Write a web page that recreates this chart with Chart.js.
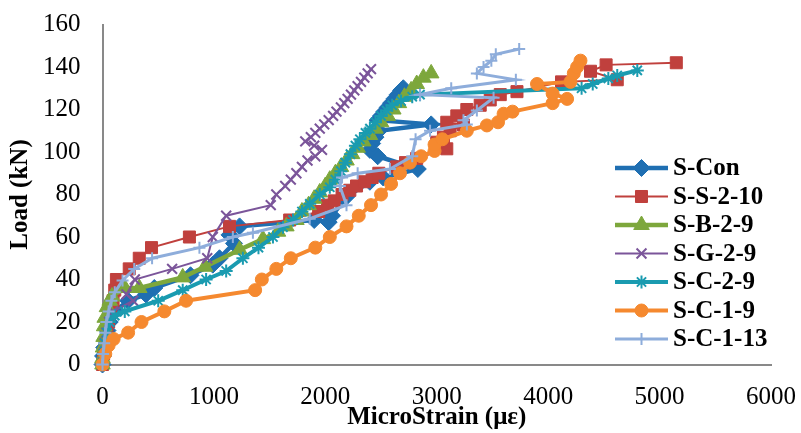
<!DOCTYPE html>
<html>
<head>
<meta charset="utf-8">
<script src="https://cdn.jsdelivr.net/npm/chart.js@4/dist/chart.umd.min.js"></script>
<style>
  html, body { margin: 0; padding: 0; background: #ffffff; }
  #wrap { width: 801px; height: 433px; }
</style>
</head>
<body>
<div id="wrap"><canvas id="c" width="801" height="433"></canvas></div>
<script>
// Load–strain readings, [microstrain, load kN]
const sCon = [[0,0],[5,4],[15,8],[30,12],[45,16],[65,20],[110,25],[230,30],[390,33],[465,36],[790,42],[990,47],[1050,50],[1180,57],[1140,61],[1230,65],[1900,68],[2030,67],[2060,70],[2190,79],[2400,86],[2520,88],[2830,92],[2470,98],[2400,101],[2420,104],[2450,107],[2480,110],[2950,113],[2470,115],[2500,117],[2530,119],[2560,121],[2590,123],[2620,125],[2650,127],[2680,129],[2700,130]];
const sS210 = [[0,0],[10,5],[25,10],[40,15],[55,20],[75,25],[95,30],[110,35],[125,40],[240,45],[330,50],[440,55],[780,60],[1140,65],[1680,68],[1940,72],[2020,75],[2080,77],[2150,80],[2220,82],[2280,84],[2350,86],[2420,88],[2480,90],[2640,93],[2720,95],[2820,97],[3090,101.5],[3000,104.6],[3060,107],[3120,110],[3240,112.7],[3090,114],[3180,117],[3270,120],[3390,122],[3480,124.5],[3570,127],[3720,128.4],[4120,133],[4620,134],[4380,138],[4520,141],[5150,142]];
const sB29 = [[0,0],[0,3],[5,8],[10,13],[15,18],[20,22],[40,27],[65,30],[85,32],[200,36],[330,36],[720,41],[920,46],[1230,54],[1440,59],[1575,62.5],[1650,65],[1740,68],[1790,72],[1850,75],[1900,78],[1950,81],[2000,84],[2040,87],[2090,90],[2140,93],[2190,96],[2240,99],[2290,102],[2340,105],[2400,108],[2450,111],[2500,114],[2560,117],[2610,120],[2660,123],[2710,126],[2770,129],[2820,132],[2880,135],[2950,137]];
const sG29 = [[0,0],[10,5],[20,10],[35,15],[60,20],[95,25],[275,30],[215,33],[290,40],[625,45],[940,50],[990,60],[1110,70],[1510,75],[1560,80],[1640,84],[1690,87],[1740,90],[1790,93],[1840,96],[1910,98],[1970,101],[1900,103],[1820,105],[1870,107],[1910,109],[1950,111],[1990,113],[2030,115],[2070,117],[2100,119],[2140,121],[2170,123],[2200,125],[2230,127],[2260,129],[2290,131],[2320,133],[2350,135],[2380,137],[2410,139]];
const sC29 = [[0,0],[10,5],[20,10],[40,15],[65,20],[110,23],[200,25],[500,30],[720,35],[930,40],[1110,44],[1260,50],[1400,55],[1530,60],[1620,64.6],[1710,68],[1790,72],[1860,75.6],[1950,80],[2040,83.4],[2090,87],[2140,91],[2180,95],[2225,99],[2270,103],[2310,106],[2360,109],[2400,111],[2450,114],[2500,117],[2550,119.5],[2600,122],[2680,124],[2780,126],[2850,127],[4300,130],[4400,132],[4540,134.6],[4620,136],[4800,138.4]];
const sC19 = [[0,0],[25,5],[55,9],[100,12],[230,15],[350,20],[555,25],[750,30],[1370,35],[1430,40],[1560,45],[1690,50],[1910,55],[2040,60],[2190,65],[2300,70],[2410,75],[2500,80],[2590,85],[2670,90],[2760,95],[2860,98],[2980,100.5],[2980,103.5],[3050,106],[3270,110],[3450,112.5],[3550,114],[3600,118],[3680,119],[4040,123],[4170,125],[4040,127.5],[3900,132],[4200,133],[4230,137],[4260,140],[4290,143]];
const sC113 = [[0,0],[5,5],[15,10],[25,15],[35,20],[55,25],[80,30],[110,34],[180,39.5],[285,45],[445,50],[870,55],[1170,60],[1350,62],[1860,68.6],[2190,75],[2130,84],[2150,88],[2290,90],[2580,92],[2780,98],[2810,106],[2940,110],[3270,113],[3240,115],[3360,119.5],[3510,125.5],[2850,127],[3130,130],[3710,134],[3360,137],[3420,140],[3490,143],[3530,146],[3740,148.5]];

const seriesNames = ['S-Con','S-S-2-10','S-B-2-9','S-G-2-9','S-C-2-9','S-C-1-9','S-C-1-13'];
const seriesData = [sCon, sS210, sB29, sG29, sC29, sC19, sC113];
const seriesColors = ['#1F6FB2','#C0403D','#7DA73C','#7B559A','#1A9BB0','#F5892F','#8EADDB'];
const lineWidths = [4.5, 2, 4.5, 2, 4, 4, 3];
const markerStyles = ['rectRot','rect','triangle','crossRot','star','circle','cross'];
const markerSizes = [8.5, 8.5, 9, 7, 6.5, 6.5, 6];
const markerBorders = [1, 1, 1, 2, 2, 1, 2];

const xTicks = { min: 0, max: 6000, step: 1000 };
const yTicks = { min: 0, max: 160, step: 20 };

const serif = '"Liberation Serif", "Times New Roman", serif';
const axisGrey = '#898989';

const datasets = seriesNames.map((name, i) => ({
  label: name,
  data: seriesData[i].map(p => ({ x: p[0], y: p[1] })),
  showLine: true,
  tension: 0,
  borderColor: seriesColors[i],
  backgroundColor: seriesColors[i],
  borderWidth: lineWidths[i],
  pointStyle: markerStyles[i],
  pointRadius: markerSizes[i],
  pointBackgroundColor: seriesColors[i],
  pointBorderColor: seriesColors[i],
  pointBorderWidth: markerBorders[i],
  order: seriesNames.length - i,
  clip: false
}));

// Key on the right: a line sample with its marker, then the series name
const seriesKey = {
  id: 'seriesKey',
  afterDraw(chart) {
    const ctx = chart.ctx;
    const x0 = 615, x1 = 668, top = 168, step = 28.5;
    chart.data.datasets.forEach((ds, i) => {
      const y = top + i * step;
      ctx.save();
      ctx.strokeStyle = ds.borderColor;
      ctx.lineWidth = ds.borderWidth;
      ctx.beginPath();
      ctx.moveTo(x0, y);
      ctx.lineTo(x1, y);
      ctx.stroke();
      ctx.fillStyle = ds.pointBackgroundColor;
      ctx.strokeStyle = ds.pointBorderColor;
      ctx.lineWidth = ds.pointBorderWidth;
      Chart.helpers.drawPoint(ctx, {
        pointStyle: ds.pointStyle,
        radius: ds.pointRadius,
        borderWidth: ds.pointBorderWidth,
        rotation: 0
      }, (x0 + x1) / 2, y);
      ctx.fillStyle = '#000';
      ctx.font = 'bold 25px ' + serif;
      ctx.textAlign = 'left';
      ctx.textBaseline = 'middle';
      ctx.fillText(ds.label, 673, y + 1);
      ctx.restore();
    });
  }
};

new Chart(document.getElementById('c'), {
  type: 'scatter',
  data: { datasets },
  plugins: [seriesKey],
  options: {
    responsive: false,
    animation: false,
    devicePixelRatio: 1,
    layout: { padding: { left: 0, top: 24.5, right: 30, bottom: 0 } },
    plugins: { legend: { display: false }, tooltip: { enabled: false } },
    scales: {
      x: {
        type: 'linear',
        min: xTicks.min, max: xTicks.max,
        ticks: { stepSize: xTicks.step, padding: 18, color: '#000', maxRotation: 0,
                 font: { family: serif, size: 25 }, callback: v => String(v) },
        grid: { display: false, drawTicks: false },
        border: { display: true, color: axisGrey, width: 2 },
        title: { display: true, text: 'MicroStrain (με)', color: '#000',
                 font: { family: serif, size: 25, weight: 'bold' }, padding: { top: 0, bottom: 0 } },
        afterFit(s) { s.height = 68.5; s.paddingLeft = 0; s.paddingRight = 0; }
      },
      y: {
        type: 'linear',
        min: yTicks.min, max: yTicks.max,
        ticks: { stepSize: yTicks.step, padding: 22, color: '#000',
                 font: { family: serif, size: 25 }, callback: v => String(v) },
        grid: { display: false, drawTicks: false },
        border: { display: true, color: axisGrey, width: 2 },
        title: { display: true, text: 'Load (kN)', color: '#000',
                 font: { family: serif, size: 25, weight: 'bold' }, padding: { top: 6, bottom: 0 } },
        afterFit(s) { s.width = 102.5; s.paddingTop = 0; s.paddingBottom = 0; }
      }
    }
  }
});
</script>
</body>
</html>
